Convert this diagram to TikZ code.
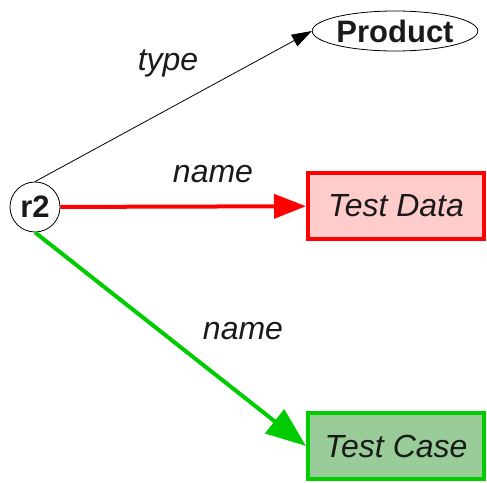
\documentclass[tikz,border=0pt]{standalone}
\usepackage{fontspec}
\setmainfont{Liberation Sans}
\usetikzlibrary{arrows.meta,shapes.geometric}
\definecolor{rd}{HTML}{FF0000}
\definecolor{rdfill}{HTML}{FFCCCC}
\definecolor{gn}{HTML}{00CC00}
\definecolor{gnfill}{HTML}{99CC99}
\definecolor{txt}{HTML}{1A1A1A}
\tikzset{
  every node/.style={font=\fontsize{32}{38}\selectfont, text=txt},
  lbl/.style={font=\fontsize{32}{38}\selectfont\itshape},
  boxnode/.style={draw, rectangle, minimum width=176pt, minimum height=66pt, line width=4pt, inner sep=0pt}
}
\begin{document}
\begin{tikzpicture}[x=1pt,y=-1pt]
\useasboundingbox (0,0) rectangle (487,482);
\node[draw, circle, minimum size=50pt, inner sep=0pt, line width=0.8pt, font=\fontsize{31}{36}\selectfont\bfseries] (r2) at (35,207) {r2};
\node[draw, ellipse, minimum width=154pt, minimum height=40pt, inner sep=0pt, line width=0.8pt, font=\fontsize{31}{36}\selectfont\bfseries] (prod) at (395,31) {Product};
\node[boxnode, draw=rd, fill=rdfill, font=\fontsize{32}{38}\selectfont\itshape] (td) at (396,206) {Test Data};
\node[boxnode, draw=gn, fill=gnfill, font=\fontsize{32}{38}\selectfont\itshape] (tc) at (396,446) {Test Case};
\draw[line width=0.8pt, -{Triangle[length=20pt,width=13pt]}] (r2.north) -- (prod.west);
\draw[rd, line width=4pt, -{Triangle[length=32pt,width=24pt]}] (r2) -- (td);
\draw[gn, line width=4pt, -{Triangle[length=40pt,width=30pt]}] (r2.south) -- (tc.west);
\node[lbl] (l1) at (168,63) {type};
\node[lbl] (l2) at (213,174) {name};
\node[lbl] (l3) at (243,331) {name};
\end{tikzpicture}
\end{document}
